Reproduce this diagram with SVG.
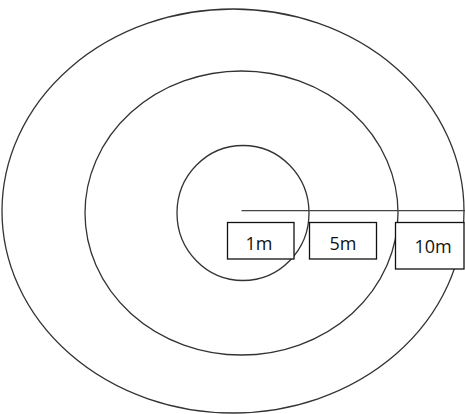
<svg xmlns="http://www.w3.org/2000/svg" width="465" height="414" viewBox="0 0 465 414">
<style>
.ring{fill:none;stroke:#333;stroke-width:1.3}
.box{fill:#fff;stroke:#111;stroke-width:1.3}
.lbl{font-family:"Open Sans","Liberation Sans",sans-serif;font-size:18px;fill:#111;text-anchor:middle}
</style>
<rect width="465" height="414" fill="#fff"/>
<g id="ring-10m"><ellipse class="ring" cx="233" cy="211" rx="231" ry="202"/></g>
<g id="ring-5m"><ellipse class="ring" cx="241.5" cy="213" rx="156.5" ry="142"/></g>
<g id="ring-1m"><ellipse class="ring" cx="243" cy="213" rx="66" ry="67.5"/></g>
<g id="connectors"><line x1="241.5" y1="210.7" x2="465" y2="210.7" stroke="#444" stroke-width="1.3"/></g>
<g id="label-1m"><rect class="box" x="227.5" y="222.5" width="66.5" height="36.5"/><text class="lbl" x="259" y="250">1m</text></g>
<g id="label-5m"><rect class="box" x="309.5" y="222.5" width="67" height="36.5"/><text class="lbl" x="343" y="250">5m</text></g>
<g id="label-10m"><rect class="box" x="395.5" y="222.5" width="68.5" height="46.5"/><text class="lbl" x="433" y="253">10m</text></g>
</svg>
